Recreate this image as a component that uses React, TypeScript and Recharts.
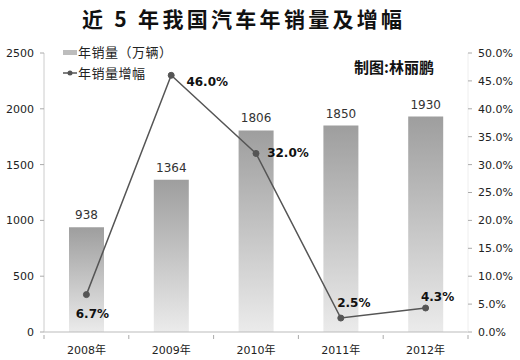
import React from 'react';
import { ComposedChart, Bar, Line, XAxis, YAxis, LabelList } from 'recharts';

const years = ['2008年', '2009年', '2010年', '2011年', '2012年'];
const sales = [938, 1364, 1806, 1850, 1930];
const growth = [6.7, 46.0, 32.0, 2.5, 4.3];
const salesTicks = [0, 500, 1000, 1500, 2000, 2500];
const growthTicks = [0, 5, 10, 15, 20, 25, 30, 35, 40, 45, 50];

const data = years.map((year, i) => ({ year, sales: sales[i], growth: growth[i] }));

const FONT = '"DejaVu Sans", "Noto Sans CJK SC", sans-serif';
const CJK = '"Noto Sans CJK SC", sans-serif';

// where each growth label sits relative to its point
const labelOffsets: [number, number][] = [[6, 19], [36, 7], [32, 0], [13, -15], [12, -11]];

const XTick = (props: any) => {
  const { x, y, payload, index, visibleTicksCount, width } = props;
  const half = (width || 424) / (visibleTicksCount || 5) / 2;
  const last = index === (visibleTicksCount || 5) - 1;
  return (
    <g>
      <line x1={x - half} x2={x - half} y1={y - 5} y2={y - 1} stroke="#aaa" />
      {last && <line x1={x + half} x2={x + half} y1={y - 5} y2={y - 1} stroke="#aaa" />}
      <text x={x} y={y + 14} textAnchor="middle" fontSize={11} fill="#222" fontFamily={FONT}>
        {payload.value}
      </text>
    </g>
  );
};

const GrowthLabel = (props: any) => {
  const { x, y, value, index } = props;
  const [dx, dy] = labelOffsets[index] || [0, -10];
  return (
    <text
      x={x + dx}
      y={y + dy}
      textAnchor="middle"
      dominantBaseline="central"
      fontSize={12}
      fontWeight="bold"
      fill="#111"
      fontFamily={FONT}
    >
      {value.toFixed(1)}%
    </text>
  );
};

export default function App() {
  return (
    <div style={{ position: 'absolute', left: 0, top: 0, width: 520, height: 360, background: '#fff' }}>
      <ComposedChart
        width={520}
        height={360}
        data={data}
        margin={{ top: 53, right: 0, bottom: 0, left: 0 }}
      >
        <defs>
          <linearGradient id="barFill" x1="0" y1="0" x2="0" y2="1">
            <stop offset="0%" stopColor="#9e9e9e" />
            <stop offset="100%" stopColor="#ebebeb" />
          </linearGradient>
        </defs>
        <XAxis
          dataKey="year"
          height={28}
          tickLine={false}
          axisLine={{ stroke: '#bbb' }}
          tick={<XTick />}
          interval={0}
        />
        <YAxis
          yAxisId="left"
          width={44}
          domain={[0, 2500]}
          ticks={salesTicks}
          tickSize={4}
          tickMargin={6}
          axisLine={{ stroke: '#ccc' }}
          tickLine={{ stroke: '#aaa' }}
          tick={{ fontSize: 11, fill: '#222', fontFamily: FONT }}
        />
        <YAxis
          yAxisId="right"
          orientation="right"
          width={52}
          domain={[0, 50]}
          ticks={growthTicks}
          tickSize={4}
          tickMargin={6}
          axisLine={{ stroke: '#eee' }}
          tickLine={{ stroke: '#aaa' }}
          tickFormatter={(v: number) => v.toFixed(1) + '%'}
          tick={{ fontSize: 11, fill: '#222', fontFamily: FONT }}
        />
        <Bar yAxisId="left" dataKey="sales" barSize={35} fill="url(#barFill)" isAnimationActive={false}>
          <LabelList
            dataKey="sales"
            position="top"
            offset={8}
            fontSize={12}
            fill="#333"
            fontFamily={FONT}
          />
        </Bar>
        <Line
          yAxisId="right"
          dataKey="growth"
          stroke="#555"
          strokeWidth={1.5}
          dot={{ r: 3, fill: '#555', stroke: '#555', strokeWidth: 1 }}
          isAnimationActive={false}
        >
          <LabelList dataKey="growth" content={<GrowthLabel />} />
        </Line>
      </ComposedChart>

      <div
        style={{
          position: 'absolute',
          left: 82,
          top: 6,
          whiteSpace: 'nowrap',
          fontFamily: CJK,
          fontWeight: 'bold',
          fontSize: 21,
          letterSpacing: 3.3,
          lineHeight: '24px',
          color: '#111',
        }}
      >
        近 5 年我国汽车年销量及增幅
      </div>

      <div style={{ position: 'absolute', left: 63, top: 43, fontFamily: CJK, fontSize: 13, color: '#222', lineHeight: '18px' }}>
        <div style={{ display: 'flex', alignItems: 'center' }}>
          <span style={{ display: 'inline-block', width: 14, height: 5, background: '#bdbdbd', marginRight: 1 }} />
          <span style={{ letterSpacing: 0.5 }}>年销量（万辆）</span>
        </div>
        <div style={{ display: 'flex', alignItems: 'center', marginTop: 3 }}>
          <svg width={14} height={8} style={{ marginRight: 1 }}>
            <line x1={0} y1={4} x2={14} y2={4} stroke="#555" strokeWidth={1.5} />
            <circle cx={7} cy={4} r={2.5} fill="#555" />
          </svg>
          <span style={{ letterSpacing: 0.5 }}>年销量增幅</span>
        </div>
      </div>

      <div
        style={{
          position: 'absolute',
          left: 354,
          top: 58,
          fontFamily: CJK,
          fontWeight: 'bold',
          fontSize: 15,
          lineHeight: '18px',
          color: '#111',
          whiteSpace: 'nowrap',
        }}
      >
        制图:林丽鹏
      </div>
    </div>
  );
}
